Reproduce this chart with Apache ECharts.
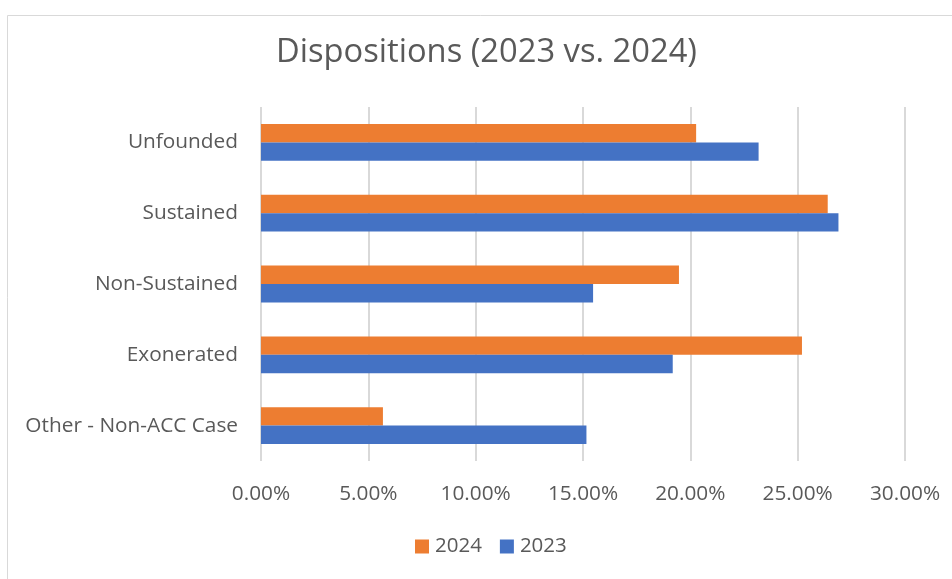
<!DOCTYPE html>
<html><head><meta charset="utf-8">
<script src="https://cdn.jsdelivr.net/npm/echarts@6/dist/echarts.min.js"></script>
<style>html,body{margin:0;padding:0;background:#fff}#c{width:952px;height:579px}</style>
</head><body><div id="c"></div>
<script>
const categories = ["Unfounded", "Sustained", "Non-Sustained", "Exonerated", "Other - Non-ACC Case"];
const values2024 = [20.27, 26.4, 19.47, 25.2, 5.68];
const values2023 = [23.18, 26.9, 15.47, 19.18, 15.16];
const xTicks = [0, 5, 10, 15, 20, 25, 30];

const font = "'Open Sans', 'Liberation Sans', sans-serif";
const chart = echarts.init(document.getElementById('c'));
chart.setOption({
  animation: false,
  title: {
    text: 'Dispositions (2023 vs. 2024)',
    left: 271, top: 31,
    textStyle: { fontFamily: font, fontSize: 32.7, fontWeight: 'normal', color: '#595959' }
  },
  graphic: [{ type: 'rect', shape: { x: 7.5, y: 15.5, width: 960, height: 580 },
    style: { fill: 'none', stroke: '#D9D9D9', lineWidth: 1 } }],
  legend: {
    data: ['2024', '2023'], top: 531, left: 410,
    itemWidth: 14, itemHeight: 14, itemGap: 18, icon: 'rect',
    textStyle: { fontFamily: font, fontSize: 20.5, color: '#595959', padding: [0, 0, 0, 1] }
  },
  grid: { left: 261, right: 47, top: 107, bottom: 118, containLabel: false },
  xAxis: {
    type: 'value', min: xTicks[0], max: xTicks[xTicks.length - 1], interval: 5,
    axisLine: { show: false }, axisTick: { show: false },
    splitLine: { lineStyle: { color: '#D9D9D9', width: 2 } },
    axisLabel: { fontFamily: font, fontSize: 20.8, color: '#595959', margin: 23,
      formatter: v => v.toFixed(2) + '%' }
  },
  yAxis: {
    type: 'category', data: categories, inverse: true,
    axisLine: { show: false }, axisTick: { show: false },
    axisLabel: { fontFamily: font, fontSize: 20.8, color: '#595959', margin: 23 }
  },
  series: [
    { name: '2024', type: 'bar', data: values2024, itemStyle: { color: '#ED7D31' },
      barGap: '0%', barCategoryGap: '48%' },
    { name: '2023', type: 'bar', data: values2023, itemStyle: { color: '#4472C4' },
      barGap: '0%', barCategoryGap: '48%' }
  ]
});
</script></body></html>
